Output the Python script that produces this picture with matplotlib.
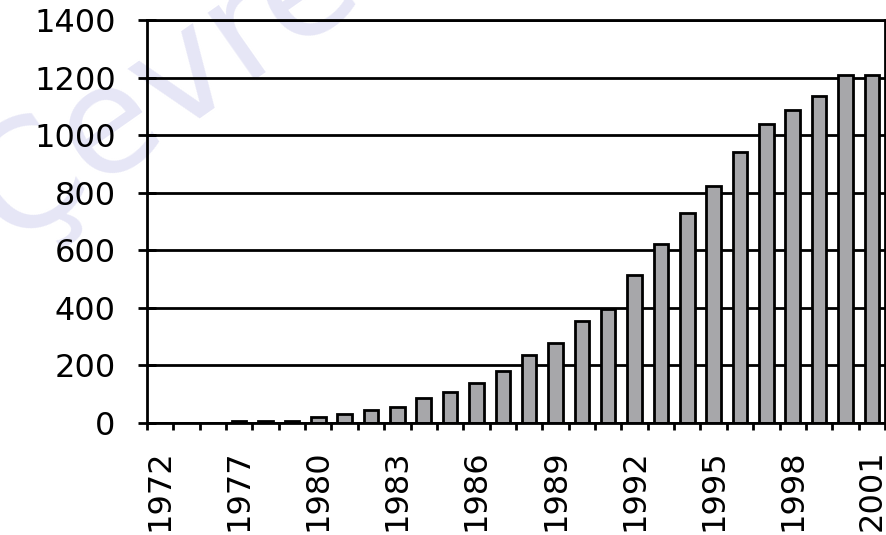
import matplotlib
matplotlib.use("Agg")
import matplotlib.pyplot as plt
import numpy as np

# yearly totals; the two slots after 1972 carry no bars
years = ["1972", "1975", "1976", "1977", "1978", "1979", "1980", "1981", "1982",
         "1983", "1984", "1985", "1986", "1987", "1988", "1989", "1990", "1991",
         "1992", "1993", "1994", "1995", "1996", "1997", "1998", "1999", "2000",
         "2001"]
values = [0, 0, 0, 8, 8, 8, 22, 33, 45, 57, 87, 108, 138, 182, 235, 278, 354,
          395, 515, 621, 730, 822, 941, 1039, 1089, 1136, 1209, 1209]
y_ticks = [0, 200, 400, 600, 800, 1000, 1200, 1400]

plt.rcParams['font.family'] = ['DejaVu Sans']

fig = plt.figure(figsize=(8.87, 5.35), dpi=100)
ax = fig.add_axes([0.1657, 0.2093, 0.832, 0.753])

# faint watermark, drawn before the axes so labels sit on top of it
fig.text(0.01, 0.54, "Çevre", fontsize=108, color="#e6e6f6", rotation=35,
         rotation_mode="anchor", ha="left", va="baseline", zorder=-1)
ax.set_facecolor("none")

x = np.arange(len(years))
ax.bar(x, values, width=0.55, color="#a7a7aa", edgecolor="black",
       linewidth=2, zorder=3)

ax.set_xlim(-0.5, len(years) - 0.5)
ax.set_ylim(0, 1400)
ax.set_yticks(y_ticks)
ax.set_yticklabels([str(v) for v in y_ticks])
ax.yaxis.grid(True, color="black", linewidth=2, zorder=1)
ax.set_axisbelow(True)

# labels on every third year, ticks on the category boundaries
ax.set_xticks(x[::3])
ax.set_xticklabels(years[::3], rotation=90, va="top", ha="center")
ax.set_xticks(np.arange(len(years) + 1) - 0.5, minor=True)
ax.tick_params(axis="x", which="major", length=0, pad=19, labelsize=23)
ax.tick_params(axis="x", which="minor", length=5, width=2, direction="out")
ax.tick_params(axis="y", length=13, width=2, direction="inout", pad=16,
               labelsize=23)

for side in ["left", "right", "top", "bottom"]:
    ax.spines[side].set_linewidth(2)
    ax.spines[side].set_color("black")
    ax.spines[side].set_zorder(4)

fig.savefig("out.png", dpi=100)
